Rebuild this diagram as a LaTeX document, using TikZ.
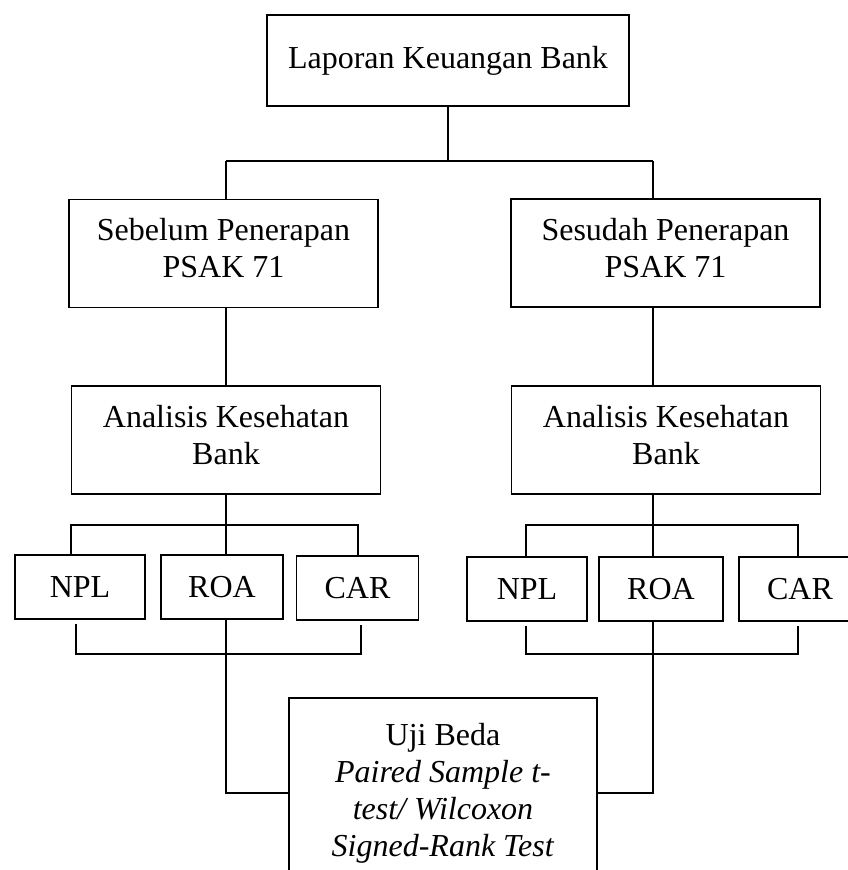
\documentclass[tikz,border=0pt]{standalone}
\usepackage{fontspec}
\setmainfont{Liberation Serif}
\begin{document}
\begin{tikzpicture}
[x=1pt,y=-1pt,line width=1.4pt,
every node/.style={draw,align=center,inner sep=0pt,font=\fontsize{32}{37}\selectfont},
bigbox/.style={minimum width=309pt,minimum height=108pt,execute at end node=\strut},
smallbox/.style={minimum width=122pt,minimum height=64pt},
]
\useasboundingbox (0,0) rectangle (848,870);
\clip (0,0) rectangle (848,870);
\node[minimum width=362pt,minimum height=91pt] (laporan) at (448,60.5) {Laporan Keuangan Bank};
\node[bigbox] (sebelum) at (223.5,253.5) {Sebelum Penerapan\\PSAK 71};
\node[bigbox] (sesudah) at (665.5,253) {Sesudah Penerapan\\PSAK 71};
\node[bigbox] (analisis1) at (226,440) {Analisis Kesehatan\\Bank};
\node[bigbox] (analisis2) at (666,440) {Analisis Kesehatan\\Bank};
\node[smallbox,minimum width=130pt] (npl1) at (80,587) {NPL};
\node[smallbox] (roa1) at (222,587) {ROA};
\node[smallbox] (car1) at (357.5,588) {CAR};
\node[smallbox,minimum width=120pt] (npl2) at (527,589) {NPL};
\node[smallbox,minimum width=124pt] (roa2) at (661,589) {ROA};
\node[smallbox] (car2) at (800,589) {CAR};
\node[minimum width=308pt,minimum height=190pt] (uji) at (443,793)
  {Uji Beda\\\textit{Paired Sample t-}\\\textit{test/ Wilcoxon}\\\textit{Signed-Rank Test}};
\coordinate (a1) at (226,161);
\coordinate (a2) at (653,161);
\coordinate (b1) at (71,525);
\coordinate (b2) at (358,525);
\coordinate (b3) at (526,525);
\coordinate (b4) at (798,525);
\coordinate (c1) at (76,654);
\coordinate (c2) at (361,654);
\coordinate (c3) at (526,654);
\coordinate (c4) at (798,654);
\draw (laporan.south) -- (laporan.south |- a1) (a1) -- (a2);
\draw (a1) -- (a1 |- sebelum.north) (a1 |- sebelum.south) -- (a1 |- analisis1.north)
  (a1 |- analisis1.south) -- (a1 |- roa1.north) (a1 |- roa1.south) -- (a1 |- uji.west) -- (uji.west);
\draw (a2) -- (a2 |- sesudah.north) (a2 |- sesudah.south) -- (a2 |- analisis2.north)
  (a2 |- analisis2.south) -- (a2 |- roa2.north) (a2 |- roa2.south) -- (a2 |- uji.east) -- (uji.east);
\draw (b1 |- npl1.north) -- (b1) -- (b2) -- (b2 |- car1.north);
\draw (b3 |- npl2.north) -- (b3) -- (b4) -- (b4 |- car2.north);
\draw ([yshift=-4pt]c1 |- npl1.south) -- (c1) -- (c2) -- ([yshift=-4pt]c2 |- car1.south);
\draw ([yshift=-4pt]c3 |- npl2.south) -- (c3) -- (c4) -- ([yshift=-4pt]c4 |- car2.south);
\end{tikzpicture}
\end{document}
